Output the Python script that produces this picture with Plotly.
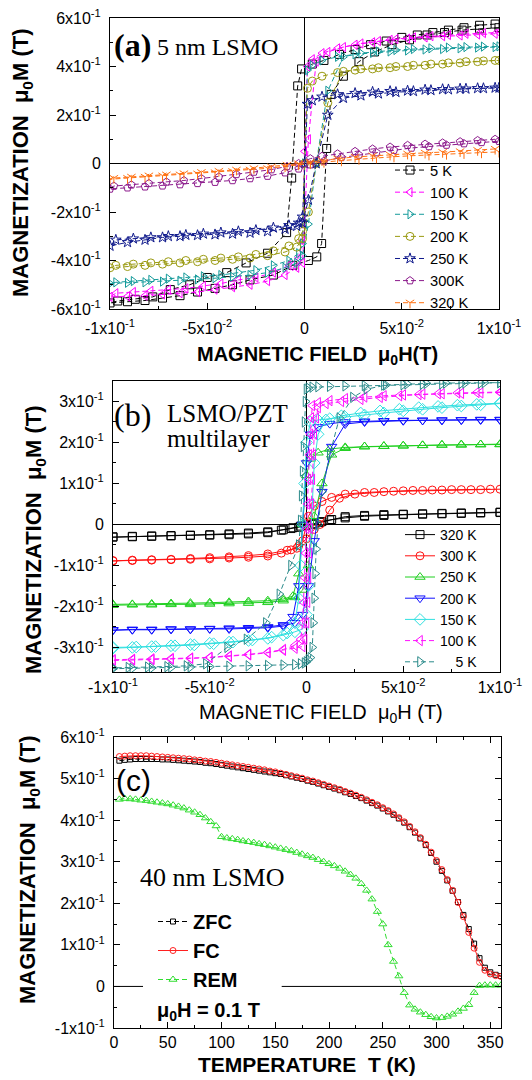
import plotly.graph_objects as go

W, H = 532, 1080
SANS = "Liberation Sans"
SERIF = "Liberation Serif"

# ---------------- Panel (a): 5 nm LSMO hysteresis loops ----------------
A_H_DOWN = [0.098, 0.089, 0.08, 0.071, 0.062, 0.053, 0.044, 0.035, 0.026, 0.017, 0.009, 0.004, 0.0015,
            0.0, -0.001, -0.003, -0.008, -0.016, -0.025, -0.034, -0.043, -0.052, -0.061, -0.07, -0.079,
            -0.088, -0.097]
A_H_UP = [-0.1, -0.091, -0.082, -0.073, -0.064, -0.055, -0.046, -0.037, -0.028, -0.019, -0.01, -0.004,
          -0.001, 0.002, 0.006, 0.012, 0.02, 0.029, 0.038, 0.047, 0.056, 0.065, 0.074, 0.083, 0.092, 0.1]
A_H_DOWN_PARA = [0.098, 0.089, 0.08, 0.071, 0.062, 0.053, 0.044, 0.035, 0.026, 0.017, 0.009, 0.003,
                 -0.003, -0.009, -0.017, -0.026, -0.035, -0.044, -0.053, -0.062, -0.071, -0.08, -0.089, -0.098]
A_H_UP_PARA = [-0.1, -0.091, -0.082, -0.073, -0.064, -0.055, -0.046, -0.037, -0.028, -0.019, -0.01, -0.003,
               0.003, 0.01, 0.019, 0.028, 0.037, 0.046, 0.055, 0.064, 0.073, 0.082, 0.091, 0.1]

A5_H_DOWN = [0.098, 0.09, 0.082, 0.074, 0.066, 0.058, 0.05, 0.042, 0.034, 0.026, 0.018, 0.01, 0.004,
             -0.0015, -0.0035, -0.0066, -0.0092, -0.019, -0.03, -0.04, -0.05, -0.059, -0.069, -0.078,
             -0.087, -0.096]
A5_M_DOWN = [0.575, 0.57, 0.56, 0.55, 0.54, 0.53, 0.52, 0.505, 0.49, 0.47, 0.45, 0.425, 0.41, 0.39, 0.32,
             -0.06, -0.285, -0.37, -0.41, -0.45, -0.47, -0.50, -0.52, -0.55, -0.56, -0.567]
A5_H_UP = [-0.1, -0.091, -0.082, -0.073, -0.064, -0.055, -0.046, -0.037, -0.028, -0.016, -0.006, 0.002,
           0.0063, 0.0088, 0.0114, 0.0137, 0.02, 0.028, 0.036, 0.045, 0.054, 0.063, 0.072, 0.081, 0.09, 0.1]
A5_M_UP = [-0.575, -0.57, -0.565, -0.555, -0.545, -0.53, -0.515, -0.50, -0.48, -0.46, -0.42, -0.40, -0.385,
           -0.33, 0.062, 0.285, 0.36, 0.42, 0.46, 0.49, 0.51, 0.53, 0.54, 0.55, 0.555, 0.56]

A100_M_DOWN = [0.535, 0.532, 0.528, 0.525, 0.52, 0.515, 0.51, 0.50, 0.49, 0.475, 0.455, 0.43, 0.40, 0.05,
               -0.32, -0.39, -0.42, -0.45, -0.47, -0.48, -0.495, -0.505, -0.515, -0.52, -0.525, -0.53, -0.535]
A100_M_UP = [-0.55, -0.548, -0.545, -0.54, -0.535, -0.53, -0.52, -0.51, -0.50, -0.485, -0.46, -0.43, -0.41,
             0.1, 0.42, 0.46, 0.48, 0.495, 0.505, 0.513, 0.52, 0.525, 0.53, 0.535, 0.538, 0.54]
A150_M_DOWN = [0.48, 0.478, 0.475, 0.472, 0.47, 0.466, 0.462, 0.456, 0.45, 0.44, 0.425, 0.405, 0.385, 0.0,
               -0.33, -0.37, -0.40, -0.42, -0.44, -0.45, -0.46, -0.465, -0.47, -0.475, -0.48, -0.485, -0.49]
A150_M_UP = [-0.495, -0.492, -0.49, -0.487, -0.483, -0.478, -0.473, -0.467, -0.46, -0.45, -0.43, -0.41,
             -0.38, -0.25, 0.0, 0.3, 0.44, 0.455, 0.462, 0.468, 0.472, 0.475, 0.478, 0.48, 0.482, 0.483]
A200_M_DOWN = [0.425, 0.42, 0.415, 0.41, 0.405, 0.40, 0.395, 0.39, 0.385, 0.375, 0.36, 0.34, 0.31, 0.0,
               -0.28, -0.31, -0.34, -0.36, -0.375, -0.385, -0.39, -0.395, -0.40, -0.405, -0.41, -0.415, -0.42]
A200_M_UP = [-0.43, -0.425, -0.42, -0.415, -0.41, -0.405, -0.40, -0.395, -0.39, -0.38, -0.365, -0.345,
             -0.31, -0.2, 0.0, 0.25, 0.38, 0.39, 0.395, 0.40, 0.405, 0.41, 0.415, 0.42, 0.423, 0.425]
A250_M_DOWN = [0.312, 0.31, 0.308, 0.306, 0.304, 0.30, 0.298, 0.295, 0.29, 0.285, 0.275, 0.26, 0.245, 0.0,
               -0.22, -0.245, -0.255, -0.265, -0.275, -0.28, -0.285, -0.29, -0.295, -0.30, -0.305, -0.31,
               -0.315]
A250_M_UP = [-0.34, -0.325, -0.315, -0.305, -0.30, -0.296, -0.293, -0.29, -0.286, -0.28, -0.27, -0.258,
             -0.245, -0.15, 0.0, 0.2, 0.27, 0.28, 0.288, 0.294, 0.298, 0.302, 0.305, 0.308, 0.31, 0.312]
A300_M_DOWN = [0.10, 0.095, 0.09, 0.085, 0.08, 0.075, 0.068, 0.06, 0.05, 0.04, 0.03, 0.02, 0.0, -0.012,
               -0.025, -0.035, -0.045, -0.055, -0.062, -0.07, -0.076, -0.082, -0.088, -0.093]
A300_M_UP = [-0.105, -0.10, -0.096, -0.092, -0.087, -0.082, -0.077, -0.07, -0.062, -0.052, -0.038, -0.022,
             -0.005, 0.01, 0.025, 0.035, 0.045, 0.055, 0.064, 0.07, 0.076, 0.082, 0.087, 0.092]
A320_M_DOWN = [0.06, 0.055, 0.05, 0.047, 0.044, 0.04, 0.036, 0.032, 0.027, 0.02, 0.013, 0.006, 0.0, -0.006,
               -0.013, -0.02, -0.026, -0.031, -0.036, -0.041, -0.046, -0.05, -0.055, -0.06]
A320_M_UP = [-0.065, -0.06, -0.055, -0.05, -0.046, -0.042, -0.037, -0.032, -0.026, -0.02, -0.012, -0.005,
             0.0, 0.006, 0.012, 0.018, 0.024, 0.028, 0.032, 0.036, 0.039, 0.042, 0.045, 0.048]

A_X_TICKS = [-0.1, -0.05, 0, 0.05, 0.1]
A_X_TICKTEXT = ["-1x10<sup>-1</sup>", "-5x10<sup>-2</sup>", "0", "5x10<sup>-2</sup>", "1x10<sup>-1</sup>"]
A_Y_TICKS = [-0.6, -0.4, -0.2, 0, 0.2, 0.4, 0.6]
A_Y_TICKTEXT = ["-6x10<sup>-1</sup>", "-4x10<sup>-1</sup>", "-2x10<sup>-1</sup>", "0",
                "2x10<sup>-1</sup>", "4x10<sup>-1</sup>", "6x10<sup>-1</sup>"]

# ---------------- Panel (b): LSMO/PZT multilayer loops ----------------
B320_H_DOWN = [0.1, 0.09, 0.08, 0.07, 0.06, 0.05, 0.04, 0.03, 0.02, 0.013, 0.007, 0.003, 0.0, -0.004, -0.008,
               -0.012, -0.02, -0.03, -0.04, -0.05, -0.06, -0.07, -0.08, -0.09, -0.1]
B320_M_DOWN = [0.03, 0.029, 0.028, 0.027, 0.026, 0.025, 0.024, 0.022, 0.019, 0.012, 0.005, 0.0, -0.003, -0.007,
               -0.01, -0.013, -0.018, -0.021, -0.023, -0.025, -0.026, -0.027, -0.028, -0.029, -0.03]
B320_H_UP = [-0.1, -0.09, -0.08, -0.07, -0.06, -0.05, -0.04, -0.03, -0.02, -0.013, -0.007, -0.003, 0.0, 0.004,
             0.008, 0.012, 0.02, 0.03, 0.04, 0.05, 0.06, 0.07, 0.08, 0.09, 0.1]
B320_M_UP = [-0.031, -0.03, -0.029, -0.028, -0.027, -0.026, -0.025, -0.023, -0.02, -0.014, -0.008, -0.004,
             -0.002, 0.002, 0.007, 0.011, 0.016, 0.02, 0.022, 0.024, 0.025, 0.026, 0.027, 0.028, 0.029]

B300_H_DOWN = [0.1, 0.09, 0.08, 0.07, 0.06, 0.05, 0.04, 0.03, 0.02, 0.013, 0.008, 0.004, 0.001, -0.002, -0.005,
               -0.01, -0.02, -0.03, -0.04, -0.05, -0.06, -0.07, -0.08, -0.09, -0.1]
B300_M_DOWN = [0.086, 0.085, 0.085, 0.084, 0.083, 0.082, 0.08, 0.078, 0.074, 0.066, 0.056, 0.045, 0.02, -0.04,
               -0.058, -0.063, -0.072, -0.076, -0.079, -0.081, -0.083, -0.085, -0.086, -0.087, -0.088]
B300_H_UP = [-0.1, -0.09, -0.08, -0.07, -0.06, -0.05, -0.04, -0.03, -0.02, -0.013, -0.008, -0.004, 0.0, 0.004,
             0.007, 0.012, 0.017, 0.025, 0.035, 0.045, 0.055, 0.065, 0.075, 0.085, 0.095]
B300_M_UP = [-0.089, -0.088, -0.087, -0.086, -0.085, -0.084, -0.082, -0.08, -0.077, -0.07, -0.062, -0.052,
             -0.035, -0.012, 0.0, 0.035, 0.064, 0.074, 0.078, 0.081, 0.083, 0.084, 0.085, 0.085, 0.086]

B_H_DOWN_MID = [0.1, 0.09, 0.08, 0.07, 0.06, 0.05, 0.04, 0.03, 0.02, 0.012, 0.006, 0.002, 0.0, -0.002, -0.004,
                -0.007, -0.012, -0.02, -0.03, -0.04, -0.05, -0.06, -0.07, -0.08, -0.09, -0.1]
B_H_UP_MID = [-0.1, -0.09, -0.08, -0.07, -0.06, -0.05, -0.04, -0.03, -0.02, -0.012, -0.006, -0.002, 0.001,
              0.004, 0.008, 0.013, 0.02, 0.03, 0.04, 0.05, 0.06, 0.07, 0.08, 0.09, 0.1]
B250_M_DOWN = [0.195, 0.195, 0.194, 0.194, 0.193, 0.192, 0.191, 0.19, 0.188, 0.184, 0.175, 0.16, 0.12, 0.0,
               -0.12, -0.175, -0.182, -0.186, -0.188, -0.19, -0.191, -0.192, -0.193, -0.194, -0.195, -0.195]
B250_M_UP = [-0.197, -0.196, -0.196, -0.195, -0.195, -0.194, -0.193, -0.192, -0.19, -0.186, -0.178, -0.16,
             -0.1, 0.02, 0.1, 0.17, 0.186, 0.19, 0.191, 0.192, 0.193, 0.194, 0.195, 0.195, 0.196]
B200_M_DOWN = [0.255, 0.255, 0.255, 0.254, 0.254, 0.254, 0.253, 0.252, 0.25, 0.246, 0.238, 0.22, 0.15, 0.0,
               -0.15, -0.225, -0.245, -0.25, -0.252, -0.253, -0.254, -0.255, -0.255, -0.256, -0.256, -0.257]
B200_M_UP = [-0.258, -0.257, -0.257, -0.256, -0.256, -0.255, -0.255, -0.254, -0.252, -0.248, -0.24, -0.22,
             -0.15, -0.04, 0.08, 0.19, 0.245, 0.25, 0.252, 0.253, 0.254, 0.255, 0.255, 0.256, 0.256]

B150_H_DOWN = [0.1, 0.09, 0.08, 0.07, 0.06, 0.05, 0.04, 0.03, 0.02, 0.012, 0.006, 0.002, 0.0, -0.001, -0.002,
               -0.003, -0.004, -0.006, -0.01, -0.018, -0.028, -0.038, -0.048, -0.058, -0.068, -0.078, -0.088,
               -0.1]
B150_M_DOWN = [0.295, 0.292, 0.289, 0.285, 0.281, 0.277, 0.272, 0.267, 0.262, 0.258, 0.255, 0.25, 0.2, 0.1,
               0.0, -0.1, -0.18, -0.24, -0.265, -0.275, -0.282, -0.287, -0.291, -0.294, -0.296, -0.298, -0.299,
               -0.30]
B150_H_UP = [-0.1, -0.09, -0.08, -0.07, -0.06, -0.05, -0.04, -0.03, -0.02, -0.012, -0.006, -0.002, 0.0, 0.001,
             0.002, 0.003, 0.004, 0.006, 0.01, 0.018, 0.028, 0.038, 0.048, 0.058, 0.068, 0.078, 0.088, 0.1]
B150_M_UP = [-0.302, -0.30, -0.298, -0.296, -0.293, -0.29, -0.287, -0.283, -0.278, -0.27, -0.262, -0.255,
             -0.22, -0.15, -0.05, 0.05, 0.15, 0.22, 0.255, 0.265, 0.272, 0.277, 0.281, 0.285, 0.288, 0.291,
             0.293, 0.296]

B100_H_DOWN = [0.1, 0.09, 0.08, 0.07, 0.06, 0.05, 0.04, 0.03, 0.02, 0.012, 0.006, 0.003, 0.0025, 0.002, 0.0015,
               0.001, 0.0005, 0.0, -0.0005, -0.001, -0.0015, -0.002, -0.003, -0.006, -0.012, -0.02, -0.03, -0.04,
               -0.05, -0.06, -0.07, -0.08, -0.09, -0.1]
B100_M_DOWN = [0.322, 0.321, 0.32, 0.319, 0.318, 0.316, 0.314, 0.311, 0.307, 0.302, 0.297, 0.29, 0.26, 0.22,
               0.17, 0.11, 0.05, -0.01, -0.07, -0.13, -0.19, -0.24, -0.28, -0.295, -0.305, -0.312, -0.317,
               -0.321, -0.324, -0.326, -0.327, -0.328, -0.329, -0.33]
B100_H_UP = [-0.1, -0.09, -0.08, -0.07, -0.06, -0.05, -0.04, -0.03, -0.02, -0.012, -0.006, -0.002, -0.001, 0.0,
             0.0005, 0.001, 0.0015, 0.002, 0.0025, 0.003, 0.0035, 0.004, 0.005, 0.006, 0.01, 0.018, 0.028, 0.038,
             0.048, 0.058, 0.068, 0.078, 0.088, 0.1]
B100_M_UP = [-0.332, -0.331, -0.33, -0.329, -0.327, -0.325, -0.322, -0.318, -0.313, -0.307, -0.302, -0.298,
             -0.28, -0.24, -0.19, -0.13, -0.07, -0.01, 0.05, 0.11, 0.17, 0.22, 0.26, 0.285, 0.295, 0.30, 0.305,
             0.31, 0.314, 0.317, 0.319, 0.321, 0.322, 0.323]

B5_H_DOWN = [0.1, 0.09, 0.08, 0.07, 0.06, 0.05, 0.04, 0.03, 0.02, 0.012, 0.006, 0.003, 0.001, 0.0, -0.0005,
             -0.001, -0.0015, -0.002, -0.0025, -0.003, -0.004, -0.008, -0.014, -0.021, -0.031, -0.041, -0.052,
             -0.062, -0.072, -0.082, -0.092, -0.1]
B5_M_DOWN = [0.346, 0.345, 0.344, 0.343, 0.342, 0.341, 0.34, 0.339, 0.338, 0.337, 0.336, 0.335, 0.333, 0.33,
             0.30, 0.25, 0.19, 0.13, 0.07, 0.01, -0.05, -0.1, -0.17, -0.24, -0.28, -0.30, -0.34, -0.345, -0.347,
             -0.348, -0.349, -0.35]
B5_H_UP = [-0.1, -0.09, -0.08, -0.07, -0.06, -0.05, -0.04, -0.03, -0.02, -0.012, -0.006, -0.003, -0.001, 0.0,
           0.001, 0.002, 0.003, 0.0035, 0.004, 0.0045, 0.005, 0.006, 0.008, 0.012, 0.017, 0.024, 0.031, 0.041,
           0.052, 0.062, 0.072, 0.082, 0.092, 0.1]
B5_M_UP = [-0.352, -0.351, -0.35, -0.349, -0.348, -0.347, -0.346, -0.345, -0.344, -0.343, -0.342, -0.34,
           -0.338, -0.335, -0.33, -0.325, -0.3, -0.24, -0.18, -0.12, -0.06, 0.0, 0.08, 0.17, 0.26, 0.31, 0.33,
           0.34, 0.343, 0.344, 0.345, 0.345, 0.346, 0.346]

B_X_TICKS = [-0.1, -0.05, 0, 0.05, 0.1]
B_X_TICKTEXT = ["-1x10<sup>-1</sup>", "-5x10<sup>-2</sup>", "0", "5x10<sup>-2</sup>", "1x10<sup>-1</sup>"]
B_Y_TICKS = [-0.3, -0.2, -0.1, 0, 0.1, 0.2, 0.3]
B_Y_TICKTEXT = ["-3x10<sup>-1</sup>", "-2x10<sup>-1</sup>", "-1x10<sup>-1</sup>", "0",
                "1x10<sup>-1</sup>", "2x10<sup>-1</sup>", "3x10<sup>-1</sup>"]

# ---------------- Panel (c): 40 nm LSMO, M vs T ----------------
C_T = [5, 10, 15, 20, 25, 30, 35, 40, 45, 50, 55, 60, 65, 70, 75, 80, 85, 90, 95, 100, 105, 110, 115, 120,
       125, 130, 135, 140, 145, 150, 155, 160, 165, 170, 175, 180, 185, 190, 195, 200, 205, 210, 215, 220,
       225, 230, 235, 240, 245, 250, 255, 260, 265, 270, 275, 280, 285, 290, 295, 300, 305, 310, 315, 320,
       325, 330, 335, 340, 345, 350, 355, 360]
C_ZFC = [0.543, 0.545, 0.546, 0.547, 0.547, 0.547, 0.547, 0.547, 0.546, 0.546, 0.545, 0.544, 0.543, 0.542,
         0.541, 0.540, 0.538, 0.537, 0.535, 0.533, 0.531, 0.529, 0.527, 0.525, 0.523, 0.521, 0.519, 0.517,
         0.515, 0.513, 0.511, 0.508, 0.505, 0.502, 0.499, 0.495, 0.492, 0.488, 0.484, 0.480, 0.476, 0.472,
         0.467, 0.463, 0.458, 0.453, 0.447, 0.441, 0.435, 0.428, 0.421, 0.413, 0.404, 0.394, 0.383, 0.370,
         0.356, 0.340, 0.321, 0.300, 0.278, 0.255, 0.230, 0.203, 0.172, 0.138, 0.103, 0.068, 0.045, 0.034,
         0.028, 0.025]
C_FC = [0.553, 0.554, 0.555, 0.555, 0.555, 0.555, 0.554, 0.553, 0.552, 0.551, 0.550, 0.549, 0.548, 0.547,
        0.545, 0.544, 0.542, 0.541, 0.539, 0.537, 0.535, 0.533, 0.531, 0.529, 0.527, 0.525, 0.523, 0.521,
        0.518, 0.516, 0.513, 0.510, 0.507, 0.504, 0.501, 0.497, 0.494, 0.490, 0.486, 0.482, 0.478, 0.474,
        0.469, 0.465, 0.460, 0.455, 0.449, 0.443, 0.437, 0.430, 0.423, 0.415, 0.406, 0.396, 0.385, 0.372,
        0.358, 0.342, 0.323, 0.303, 0.281, 0.257, 0.231, 0.202, 0.168, 0.130, 0.092, 0.058, 0.039, 0.030,
        0.026, 0.024]
C_REM = [0.450, 0.452, 0.451, 0.450, 0.448, 0.447, 0.445, 0.443, 0.441, 0.439, 0.436, 0.433, 0.429, 0.424,
         0.419, 0.413, 0.405, 0.396, 0.386, 0.360, 0.357, 0.355, 0.353, 0.350, 0.348, 0.346, 0.343, 0.341,
         0.338, 0.335, 0.332, 0.329, 0.326, 0.322, 0.318, 0.314, 0.310, 0.305, 0.300, 0.295, 0.290, 0.284,
         0.277, 0.269, 0.260, 0.247, 0.231, 0.210, 0.180, 0.150, 0.100, 0.060, 0.025, -0.015, -0.045, -0.055,
         -0.062, -0.068, -0.073, -0.076, -0.075, -0.072, -0.067, -0.060, -0.053, -0.044, -0.015, 0.002, 0.003,
         0.003, 0.003, 0.003]

C_X_TICKS = [0, 50, 100, 150, 200, 250, 300, 350]
C_X_TICKTEXT = ["0", "50", "100", "150", "200", "250", "300", "350"]
C_Y_TICKS = [-0.1, 0, 0.1, 0.2, 0.3, 0.4, 0.5, 0.6]
C_Y_TICKTEXT = ["-1x10<sup>-1</sup>", "0", "1x10<sup>-1</sup>", "2x10<sup>-1</sup>", "3x10<sup>-1</sup>",
                "4x10<sup>-1</sup>", "5x10<sup>-1</sup>", "6x10<sup>-1</sup>"]
C_ZERO_GAP = (27, 156)   # part of the zero line hidden behind the legend box

# ---------------- figure ----------------
def px_x(p):
    return p / W


def px_y(p):
    return 1 - p / H


DASH = "5px,3px"
fig = go.Figure()


def add_loop(hd, md, hu, mu, name, color, symbol, size, dash, xa, ya, legend):
    fig.add_trace(go.Scatter(
        x=hd + hu, y=md + mu, mode="lines+markers", name=name,
        line=dict(color=color, width=1, dash=dash),
        marker=dict(symbol=symbol, size=size, color=color, line=dict(color=color, width=1)),
        xaxis=xa, yaxis=ya, legend=legend))


# panel (a)
add_loop(A5_H_DOWN, A5_M_DOWN, A5_H_UP, A5_M_UP, "5 K", "black", "square-open", 8, DASH, "x", "y", "legend")
add_loop(A_H_DOWN, A100_M_DOWN, A_H_UP, A100_M_UP, "100 K", "#ff00ff", "triangle-left-open", 8, DASH, "x", "y", "legend")
add_loop(A_H_DOWN, A150_M_DOWN, A_H_UP, A150_M_UP, "150 K", "#149a9a", "triangle-right-open", 8, DASH, "x", "y", "legend")
add_loop(A_H_DOWN, A200_M_DOWN, A_H_UP, A200_M_UP, "200 K", "#9a9a10", "circle-open", 8, DASH, "x", "y", "legend")
add_loop(A_H_DOWN, A250_M_DOWN, A_H_UP, A250_M_UP, "250 K", "#101a8c", "star-open", 8, DASH, "x", "y", "legend")
add_loop(A_H_DOWN_PARA, A300_M_DOWN, A_H_UP_PARA, A300_M_UP, "300K", "#8c1a8c", "pentagon-open", 8, DASH, "x", "y", "legend")
add_loop(A_H_DOWN_PARA, A320_M_DOWN, A_H_UP_PARA, A320_M_UP, "320 K", "#ff7010", "y-down", 7, DASH, "x", "y", "legend")

# panel (b)
add_loop(B320_H_DOWN, B320_M_DOWN, B320_H_UP, B320_M_UP, "320 K", "black", "square-open", 8, "solid", "x2", "y2", "legend2")
add_loop(B300_H_DOWN, B300_M_DOWN, B300_H_UP, B300_M_UP, "300 K", "#ff1010", "circle-open", 8, "solid", "x2", "y2", "legend2")
add_loop(B_H_DOWN_MID, B250_M_DOWN, B_H_UP_MID, B250_M_UP, "250 K", "#20d020", "triangle-up-open", 9, "solid", "x2", "y2", "legend2")
add_loop(B_H_DOWN_MID, B200_M_DOWN, B_H_UP_MID, B200_M_UP, "200 K", "#1010ff", "triangle-down-open", 9, "solid", "x2", "y2", "legend2")
add_loop(B150_H_DOWN, B150_M_DOWN, B150_H_UP, B150_M_UP, "150 K", "#30e0e0", "diamond-open", 9, "solid", "x2", "y2", "legend2")
add_loop(B100_H_DOWN, B100_M_DOWN, B100_H_UP, B100_M_UP, "100 K", "#ff10ff", "triangle-left-open", 9, DASH, "x2", "y2", "legend2")
add_loop(B5_H_DOWN, B5_M_DOWN, B5_H_UP, B5_M_UP, "\u2007\u20075 K", "#2a8a8a", "triangle-right-open", 9, DASH, "x2", "y2", "legend2")

# panel (c)
fig.add_trace(go.Scatter(x=C_T, y=C_ZFC, mode="lines+markers", name="ZFC",
                         line=dict(color="black", width=1, dash=DASH),
                         marker=dict(symbol="square-open", size=5, color="black", line=dict(width=1)),
                         xaxis="x3", yaxis="y3", legend="legend3"))
fig.add_trace(go.Scatter(x=C_T, y=C_FC, mode="lines+markers", name="FC",
                         line=dict(color="#ff2020", width=1),
                         marker=dict(symbol="circle-open", size=6, color="#ff2020", line=dict(width=1)),
                         xaxis="x3", yaxis="y3", legend="legend3"))
fig.add_trace(go.Scatter(x=C_T, y=C_REM, mode="lines+markers", name="REM",
                         line=dict(color="#30dd30", width=1, dash=DASH),
                         marker=dict(symbol="triangle-up-open", size=7, color="#30dd30", line=dict(width=1)),
                         xaxis="x3", yaxis="y3", legend="legend3"))

TICKFONT = dict(family=SANS, size=16, color="black")


def axis(domain, rng, tickvals, ticktext, minor_dtick, minor_tick0, anchor, mirror=True, zeroline=False,
         standoff=3):
    return dict(domain=domain, range=rng, tickmode="array", tickvals=tickvals, ticktext=ticktext,
                showline=True, linecolor="black", linewidth=1, mirror=mirror,
                ticks="inside", ticklen=6, tickwidth=1, tickcolor="black",
                minor=dict(ticks="inside", ticklen=3, tickcolor="black", dtick=minor_dtick, tick0=minor_tick0,
                           showgrid=False),
                showgrid=False, zeroline=zeroline, zerolinecolor="black", zerolinewidth=1,
                tickfont=TICKFONT, anchor=anchor, automargin=False, ticklabelstandoff=standoff)


fig.update_layout(
    width=W, height=H, margin=dict(l=0, r=0, t=0, b=0),
    paper_bgcolor="white", plot_bgcolor="white", template="none",
    xaxis=axis([px_x(110), px_x(499)], [-0.1, 0.1], A_X_TICKS, A_X_TICKTEXT, 0.025, 0, "y", zeroline=True, standoff=5),
    yaxis=axis([px_y(309), px_y(18)], [-0.6, 0.6], A_Y_TICKS, A_Y_TICKTEXT, 0.1, 0, "x", zeroline=True, standoff=5),
    xaxis2=axis([px_x(113), px_x(500)], [-0.1, 0.1], B_X_TICKS, B_X_TICKTEXT, 0.025, 0, "y2", zeroline=True, standoff=1),
    yaxis2=axis([px_y(672), px_y(381)], [-0.36, 0.35], B_Y_TICKS, B_Y_TICKTEXT, 0.05, 0, "x2", zeroline=True, standoff=5),
    xaxis3=axis([px_x(114), px_x(501)], [0, 360], C_X_TICKS, C_X_TICKTEXT, 25, 0, "y3", mirror="allticks", standoff=0),
    yaxis3=axis([px_y(1028), px_y(737)], [-0.1, 0.6], C_Y_TICKS, C_Y_TICKTEXT, 0.05, 0, "x3", mirror="allticks", standoff=5),
    legend=dict(x=px_x(390), y=px_y(154), xanchor="left", yanchor="top", bgcolor="rgba(0,0,0,0)",
                font=dict(family=SANS, size=14.7, color="black"), itemwidth=30),
    legend2=dict(x=px_x(400), y=px_y(519), xanchor="left", yanchor="top", bgcolor="rgba(0,0,0,0)",
                 font=dict(family=SANS, size=14, color="black"), itemwidth=30),
    legend3=dict(x=px_x(153), y=px_y(902), xanchor="left", yanchor="top", bgcolor="rgba(0,0,0,0)",
                 font=dict(family=SANS, size=20, color="black", weight="bold"), itemwidth=30),
)

fig.add_shape(type="line", xref="x3", yref="y3", x0=0, x1=C_ZERO_GAP[0], y0=0, y1=0,
              line=dict(color="black", width=1), layer="below")
fig.add_shape(type="line", xref="x3", yref="y3", x0=C_ZERO_GAP[1], x1=360, y0=0, y1=0,
              line=dict(color="black", width=1), layer="below")


def note(text, x, y, font, size, bold=False, angle=0, xanchor="left"):
    fig.add_annotation(text=text, x=px_x(x), y=px_y(y), xref="paper", yref="paper", showarrow=False,
                       xanchor=xanchor, yanchor="middle", textangle=angle,
                       font=dict(family=font, size=size, color="black", weight="bold" if bold else "normal"))


# panel labels
note("(a)", 112, 45, SERIF, 32, bold=True)
note("5 nm LSMO", 155, 47, SERIF, 24)
note("(b)", 112, 415, SERIF, 32)
note("LSMO/PZT", 165, 413, SERIF, 25)
note("multilayer", 165, 438, SERIF, 25)
note("(c)", 114, 780, SANS, 30)
note("40 nm LSMO", 138, 877, SERIF, 26)
note("μ<sub>0</sub>H = 0.1 T", 155, 1011, SANS, 20, bold=True)

# axis titles
YT = "MAGNETIZATION\u00a0 μ<sub>0</sub>M (T)"
note(YT, 22, 163, SANS, 22, bold=True, angle=-90, xanchor="center")
note(YT, 35, 540, SANS, 22, bold=True, angle=-90, xanchor="center")
note(YT, 29, 870, SANS, 22, bold=True, angle=-90, xanchor="center")
note("MAGNETIC FIELD\u00a0 μ<sub>0</sub>H(T)", 317, 355, SANS, 20, bold=True, xanchor="center")
note("MAGNETIC FIELD\u00a0 μ<sub>0</sub>H (T)", 321, 713, SANS, 20, xanchor="center")
note("TEMPERATURE\u00a0 T (K)", 307, 1064, SANS, 21, bold=True, xanchor="center")

fig.write_html("out.html")
